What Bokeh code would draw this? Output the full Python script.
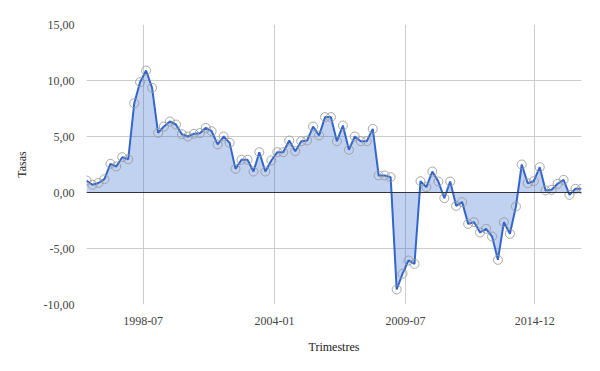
import pandas as pd
from bokeh.plotting import figure
from bokeh.models import (Range1d, FixedTicker, CustomJSTickFormatter, Span,
                          ColumnDataSource)
from bokeh.embed import file_html
from bokeh.resources import INLINE

# ---- data -------------------------------------------------------------
first_quarter = "1996Q1"
last_quarter = "2016Q4"
tasas = [1.07, 0.69, 0.85, 1.19, 2.56, 2.32, 3.15, 2.97, 7.97, 9.85,
         10.89, 9.35, 5.33, 5.89, 6.34, 6.07, 5.20, 5.00, 5.24, 5.30,
         5.77, 5.47, 4.29, 5.00, 4.43, 2.11, 2.92, 2.92, 1.87, 3.60,
         1.87, 2.86, 3.60, 3.60, 4.64, 3.69, 4.58, 4.64, 5.89, 5.09,
         6.73, 6.73, 4.58, 5.98, 3.81, 5.00, 4.58, 4.58, 5.68, 1.52,
         1.52, 1.37, -8.66, -7.26, -6.07, -6.37, 1.01, 0.48, 1.87, 0.98,
         -0.51, 0.98, -1.19, -0.86, -2.80, -2.65, -3.57, -3.24, -3.93, -6.01,
         -2.65, -3.69, -1.25, 2.50, 0.83, 1.01, 2.26, 0.18, 0.24, 0.78,
         1.13, -0.21, 0.33, 0.33]
x_tick_labels = ["1998-07", "2004-01", "2009-07", "2014-12"]
y_ticks = [-10, -5, 0, 5, 10, 15]

# quarter positions (middle month of each quarter)
periods = pd.period_range(first_quarter, last_quarter, freq="Q")
dates = [p.start_time + pd.DateOffset(months=1, days=14) for p in periods]
zeros = [0.0] * len(tasas)
src = ColumnDataSource(dict(x=dates, y=tasas, z=zeros))

tick_ms = [pd.Timestamp(t + "-01").value / 1e6 for t in x_tick_labels]

# ---- figure -----------------------------------------------------------
p = figure(width=592, height=363, x_axis_type="datetime",
           output_backend="svg", toolbar_location=None,
           min_border_left=86, min_border_right=11,
           min_border_top=24, min_border_bottom=59)
p.x_range = Range1d(dates[0], dates[-1])
p.y_range = Range1d(-10, 15)
p.outline_line_color = None
p.background_fill_color = "white"

p.varea(x="x", y1="z", y2="y", source=src, fill_color="#3366cc", fill_alpha=0.3)
p.line(x="x", y="y", source=src, line_color="#3366cc", line_width=2)
p.scatter(x="x", y="y", source=src, size=9, fill_color=None,
          line_color="#999999", line_alpha=0.85, line_width=1)

p.add_layout(Span(location=0, dimension="width", line_color="#333340", line_width=1))

font = "Liberation Serif"

# x axis
xa = p.xaxis[0]
xa.ticker = FixedTicker(ticks=tick_ms)
xa.formatter = CustomJSTickFormatter(code="""
  const d = new Date(tick);
  const m = d.getUTCMonth() + 1;
  return d.getUTCFullYear() + '-' + (m < 10 ? '0' + m : '' + m);
""")
xa.axis_label = "Trimestres"

# y axis
ya = p.yaxis[0]
ya.ticker = FixedTicker(ticks=y_ticks)
ya.formatter = CustomJSTickFormatter(code="return tick.toFixed(2).replace('.', ',');")
ya.axis_label = "Tasas"

for ax in (xa, ya):
    ax.axis_line_color = None
    ax.major_tick_line_color = None
    ax.minor_tick_line_color = None
    ax.major_label_text_font = font
    ax.major_label_text_font_size = "12px"
    ax.major_label_text_color = "#444444"
    ax.major_label_standoff = 6
    ax.axis_label_text_font = font
    ax.axis_label_text_font_size = "12px"
    ax.axis_label_text_font_style = "normal"
    ax.axis_label_text_color = "#222222"
xa.axis_label_standoff = 12
ya.axis_label_standoff = 12

p.xgrid.ticker = FixedTicker(ticks=tick_ms)
p.ygrid.ticker = FixedTicker(ticks=y_ticks)
p.xgrid.grid_line_color = "#cccccc"
p.ygrid.grid_line_color = "#cccccc"

open("out.html", "w").write(file_html(p, INLINE))
